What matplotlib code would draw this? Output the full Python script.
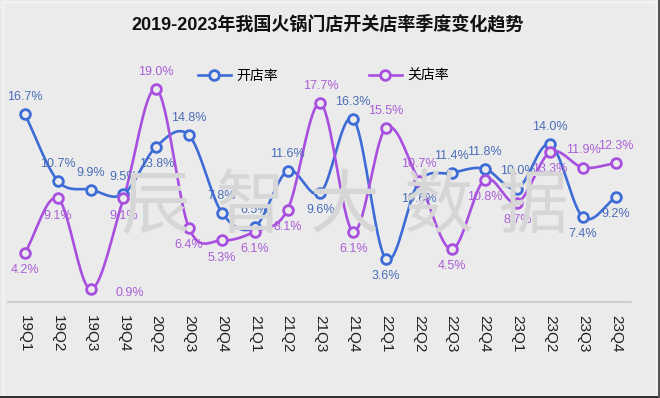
import numpy as np
import matplotlib.pyplot as plt
from matplotlib.patches import Rectangle

plt.rcParams['font.family'] = ['Liberation Sans', 'Noto Sans CJK SC', 'DejaVu Sans']

quarters = ['19Q1', '19Q2', '19Q3', '19Q4', '20Q2', '20Q3', '20Q4',
            '21Q1', '21Q2', '21Q3', '21Q4', '22Q1', '22Q2', '22Q3', '22Q4',
            '23Q1', '23Q2', '23Q3', '23Q4']
open_rate = [16.7, 10.7, 9.9, 9.5, 13.8, 14.8, 7.8, 6.5, 11.6, 9.6, 16.3,
             3.6, 10.6, 11.4, 11.8, 10.0, 14.0, 7.4, 9.2]
close_rate = [4.2, 9.1, 0.9, 9.1, 19.0, 6.4, 5.3, 6.1, 8.1, 17.7, 6.1,
              15.5, 10.7, 4.5, 10.8, 8.7, 13.3, 11.9, 12.3]

# label placement: 'a' above, 'b' below, 'r' right
open_pos = ['a', 'a', 'a', 'a', 'b', 'a', 'a', 'a', 'a', 'b', 'a',
            'b', 'b', 'a', 'a', 'a', 'a', 'b', 'b']
close_pos = ['b', 'b', 'r', 'b', 'a', 'b', 'b', 'b', 'b', 'a', 'b',
             'a', 'a', 'b', 'b', 'b', 'b', 'a', 'a']

BLUE = '#3D6CD6'
PURPLE = '#A84FE0'
BLUE_TXT = '#4A6DB8'
PURPLE_TXT = '#A95ED6'
BG = '#EBEBEB'


def smooth(x, y, n=20):
    # catmull-rom style curve through the points, like excel smoothed lines
    x = np.asarray(x, float)
    y = np.asarray(y, float)
    px = np.concatenate([[2 * x[0] - x[1]], x, [2 * x[-1] - x[-2]]])
    py = np.concatenate([[2 * y[0] - y[1]], y, [2 * y[-1] - y[-2]]])
    xs, ys = [], []
    t = np.linspace(0, 1, n, endpoint=False)
    for i in range(1, len(px) - 2):
        for p, out in ((px, xs), (py, ys)):
            p0, p1, p2, p3 = p[i - 1], p[i], p[i + 1], p[i + 2]
            m1 = (p2 - p0) / 2
            m2 = (p3 - p1) / 2
            h00 = 2 * t**3 - 3 * t**2 + 1
            h10 = t**3 - 2 * t**2 + t
            h01 = -2 * t**3 + 3 * t**2
            h11 = t**3 - t**2
            out.extend(h00 * p1 + h10 * m1 + h01 * p2 + h11 * m2)
    xs.append(x[-1])
    ys.append(y[-1])
    return np.array(xs), np.array(ys)


fig = plt.figure(figsize=(6.6, 3.98), dpi=100, facecolor=BG)
ax = fig.add_axes([0.012, 0.2412, 0.944, 0.5628])
ax.set_facecolor(BG)

# watermark
for i, ch in enumerate('辰智大数据'):
    fig.text(0.235 + i * 0.143, 0.48, ch, fontsize=50, color='#D6D6D6',
             ha='center', va='center', zorder=0, family='Noto Sans CJK SC')

x = np.arange(len(quarters))
for vals, color in ((open_rate, BLUE), (close_rate, PURPLE)):
    sx, sy = smooth(x, vals)
    ax.plot(sx, sy, color=color, lw=1.9, zorder=3, solid_capstyle='round')
    ax.plot(x, vals, 'o', ms=7, mfc=BG, mec=color, mew=2.0, zorder=4)

for vals, pos, color in ((open_rate, open_pos, BLUE_TXT),
                         (close_rate, close_pos, PURPLE_TXT)):
    for xi, v, p in zip(x, vals, pos):
        if p == 'a':
            off, ha, va = (0, 8), 'center', 'bottom'
        elif p == 'b':
            off, ha, va = (0, -8), 'center', 'top'
        else:
            off, ha, va = (18, -3), 'left', 'center'
        ax.annotate(f'{v:.1f}%', (xi, v), xytext=off, textcoords='offset points',
                    ha=ha, va=va, fontsize=9, color=color, zorder=5,
                    annotation_clip=False)

ax.set_xlim(-0.52, 18.46)
ax.set_ylim(-0.27, 20)
ax.set_xticks(x)
ax.set_xticklabels(quarters, rotation=-90, fontsize=11, color='#222222')
ax.tick_params(axis='x', length=0, pad=9)
ax.set_yticks([])
for s in ['top', 'right', 'left']:
    ax.spines[s].set_visible(False)
ax.spines['bottom'].set_color('#C8C8C8')
ax.spines['bottom'].set_linewidth(1.2)

# legend
ax.plot([], [], color=BLUE, lw=1.9, marker='o', ms=7, mfc=BG, mec=BLUE, mew=2.0, label='开店率')
ax.plot([], [], color=PURPLE, lw=1.9, marker='o', ms=7, mfc=BG, mec=PURPLE, mew=2.0, label='关店率')
fig.legend(loc='center', bbox_to_anchor=(0.49, 0.81), ncol=2, frameon=False,
           fontsize=10, handlelength=2.4, columnspacing=6.5, handletextpad=0.4)

fig.text(0.497, 0.938, '2019-2023年我国火锅门店开关店率季度变化趋势', ha='center', va='center',
         fontsize=13, fontweight='bold', color='#111111')

# frame
fig.patches.append(Rectangle((0.004, 0.005), 0.99, 0.99, transform=fig.transFigure,
                             fill=False, ec='#F6F6F6', lw=1.0))
fig.patches.append(Rectangle((0, 0), 1, 0.004, transform=fig.transFigure,
                             fc='#333333', ec='none'))
fig.patches.append(Rectangle((0.997, 0), 0.003, 1, transform=fig.transFigure,
                             fc='#555555', ec='none'))

fig.savefig('out.png', dpi=100, facecolor=BG)
